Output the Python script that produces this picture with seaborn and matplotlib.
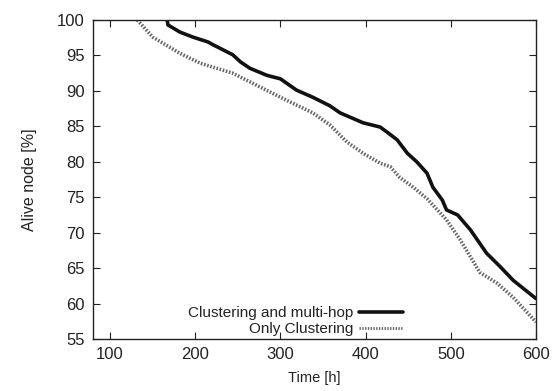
import matplotlib
matplotlib.use("Agg")
import matplotlib.pyplot as plt
import seaborn as sns
import pandas as pd
from matplotlib.lines import Line2D

sns.set_theme(style="ticks")
plt.rcParams['font.family'] = ['Liberation Sans', 'DejaVu Sans']

multi_t = [167, 168, 182, 197, 215, 221, 244, 253, 264, 284, 300, 319, 338, 358, 370, 397, 417, 425,
           437, 449, 460, 472, 479, 490, 495, 508, 523, 542, 558, 573, 600]
multi_v = [100, 99.3, 98.3, 97.6, 96.9, 96.5, 95.1, 94.1, 93.2, 92.2, 91.7, 90.1, 89.1, 87.9, 86.9, 85.5,
           84.9, 84.2, 83.1, 81.2, 80.0, 78.4, 76.4, 74.6, 73.2, 72.5, 70.4, 67.1, 65.2, 63.3, 60.7]

only_t = [132, 150, 182, 206, 244, 300, 338, 358, 378, 397, 417, 429, 440, 456, 472, 495, 511, 534,
          554, 573, 600]
only_v = [100, 97.6, 95.3, 93.9, 92.5, 89.1, 86.9, 85.2, 82.8, 81.2, 79.8, 79.3, 77.8, 76.4, 74.8,
          71.8, 69.0, 64.4, 62.9, 60.9, 57.4]

labels = ["Clustering and multi-hop", "Only Clustering"]
x_ticks = [100, 200, 300, 400, 500, 600]
y_ticks = [55, 60, 65, 70, 75, 80, 85, 90, 95, 100]

df = pd.concat([
    pd.DataFrame({"t": multi_t, "v": multi_v, "s": labels[0]}),
    pd.DataFrame({"t": only_t, "v": only_v, "s": labels[1]}),
])

fig = plt.figure(figsize=(5.59, 3.91), dpi=100)
ax = fig.add_axes([93 / 559, 1 - 339 / 391, (536 - 93) / 559, (339 - 20) / 391])

sns.lineplot(data=df, x="t", y="v", hue="s", style="s",
             palette={labels[0]: "#111111", labels[1]: "#666666"},
             dashes={labels[0]: "", labels[1]: (0.45, 0.45)},
             linewidth=2.6, ax=ax, legend=False, estimator=None, sort=False)

ax.set_xlim(80, 600)
ax.set_ylim(55, 100)
ax.set_xticks(x_ticks)
ax.set_yticks(y_ticks)
ax.tick_params(direction="in", length=5, width=0.8, top=True, right=True,
               labelsize=12, colors="#222222", pad=6)
for sp in ax.spines.values():
    sp.set_linewidth(1.0)
    sp.set_color("#222222")
ax.set_xlabel("Time [h]", fontsize=10.5, color="#222222", labelpad=6)
ax.set_ylabel("Alive node [%]", fontsize=11.5, color="#222222", labelpad=14)

handles = [Line2D([], [], color="#111111", lw=2.6),
           Line2D([], [], color="#666666", lw=2.0, dashes=(0.5, 0.5))]
leg = ax.legend(handles, labels, loc="lower right", bbox_to_anchor=(0.725, -0.025),
                frameon=False, fontsize=11, markerfirst=False, handlelength=2.9,
                handletextpad=0.4, labelspacing=0.12, borderpad=0.2)
for t in leg.get_texts():
    t.set_ha("right")
    t.set_color("#222222")
leg._legend_box.align = "right"

fig.savefig("out.png", dpi=100)
